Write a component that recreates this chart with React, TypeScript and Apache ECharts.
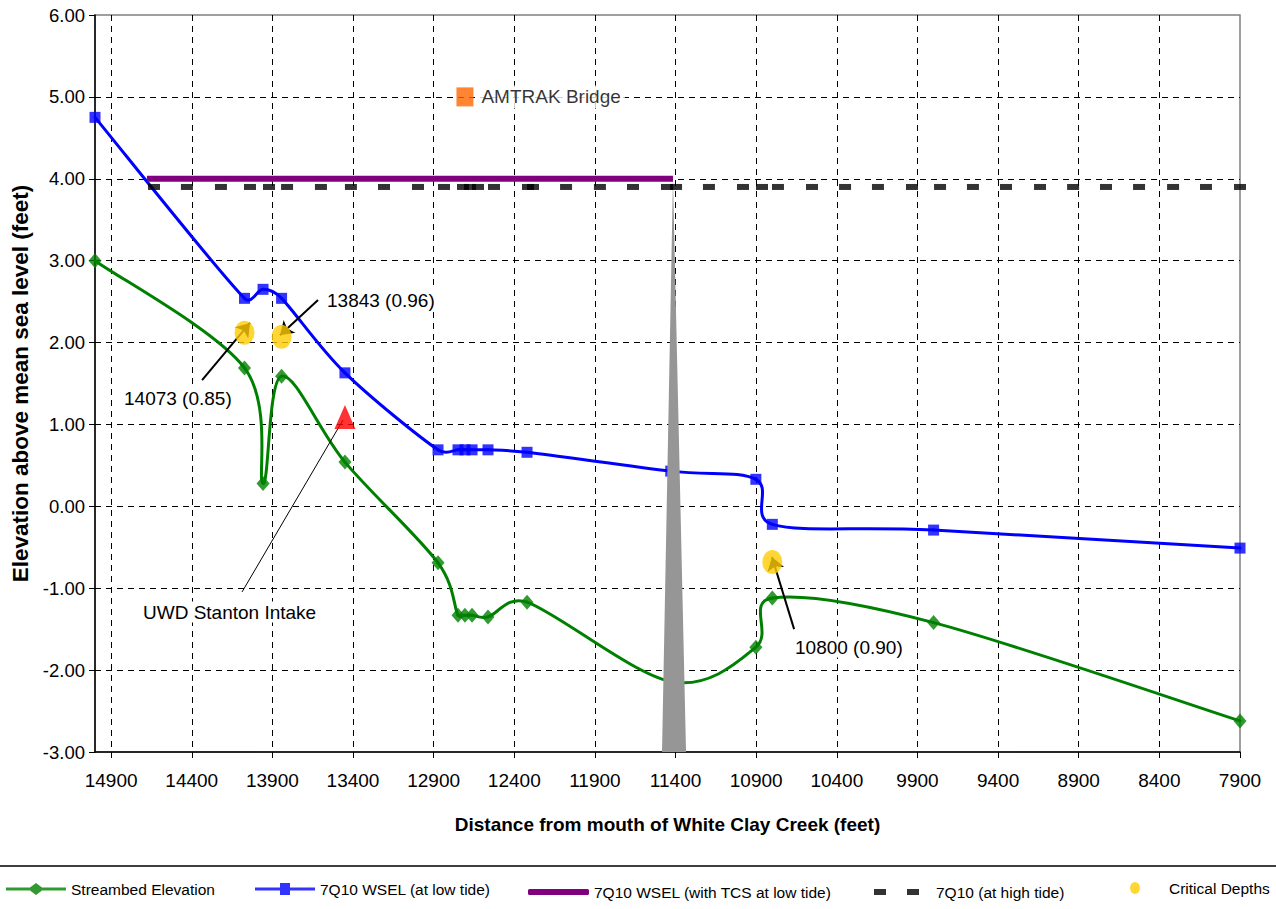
import React, { useEffect, useRef } from "react";
import * as echarts from "echarts";

// ---- data (distance in feet from mouth, elevation in feet) ----
const stationX = [15000, 14073, 13958, 13843, 13450, 12873, 12749, 12706, 12662, 12563, 12321, 11430, 10902, 10800, 9800, 7900];
const streambedY = [3.0, 1.69, 0.28, 1.59, 0.54, -0.69, -1.33, -1.33, -1.33, -1.35, -1.17, -2.14, -1.72, -1.12, -1.42, -2.62];
const wselLowY = [4.75, 2.54, 2.65, 2.54, 1.63, 0.69, 0.69, 0.69, 0.69, 0.69, 0.66, 0.43, 0.33, -0.22, -0.29, -0.51];

const tcsX = [14678, 11416];
const tcsY = [4.0, 4.0];

const highTideX = [14634, 14430, 14219, 14039, 13921, 13809, 13599, 13413, 13208, 12997, 12836, 12718, 12675, 12625, 12526, 12315, 12284, 12079, 11869, 11664, 11453, 11397, 11193, 10982, 10864, 10765, 10554, 10349, 10145, 9934, 9760, 9556, 9351, 9140, 8935, 8731, 8526, 8315, 8111, 7900];
const highTideLevel = 3.9;

const criticalX = [14073, 13843, 10800];
const criticalY = [2.12, 2.07, -0.68];
const criticalLabels = ["14073 (0.85)", "13843 (0.96)", "10800 (0.90)"];

const bridgeX = 12706;
const bridgeY = 5.0;
const intakeX = 13450;
const intakeY = 1.09;

// gray wedge (apex + base corners)
const wedgeX = [11416, 11484, 11335];
const wedgeY = [4.0, -3.0, -3.0];

const yMin = -3;
const yMax = 6;
const xMin = 7900;
const xMax = 15000;
const xStep = 500;

const FONT = '"Liberation Sans", Arial, sans-serif';

const S_BED = "Streambed Elevation";
const S_LOW = "7Q10 WSEL (at low tide)";
const S_TCS = "7Q10 WSEL (with TCS at low tide)";
const S_HIGH = "7Q10 (at high tide)";
const S_CRIT = "Critical Depths";

const ellipsePath = "path://M0,12A10,12 0 1,0 20,12A10,12 0 1,0 0,12Z";

// Excel-like smoothed line (Catmull-Rom -> cubic Bezier, control arms capped), via api.coord
function smoothLine(xs: number[], ys: number[], color: string, z: number) {
  const cap = (vx: number, vy: number, maxLen: number) => {
    const len = Math.hypot(vx, vy);
    if (len <= maxLen || len === 0) return [vx, vy];
    const k = maxLen / len;
    return [vx * k, vy * k];
  };
  return {
    type: "custom",
    silent: true,
    z,
    data: [[xs[0], ys[0]]],
    renderItem: (_params: any, api: any) => {
      const pts = xs.map((x, i) => api.coord([x, ys[i]]));
      const children: any[] = [];
      for (let i = 0; i < pts.length - 1; i++) {
        const p0 = pts[i - 1] || pts[i];
        const p1 = pts[i];
        const p2 = pts[i + 1];
        const p3 = pts[i + 2] || pts[i + 1];
        const seg = Math.hypot(p2[0] - p1[0], p2[1] - p1[1]);
        const a = cap((p2[0] - p0[0]) / 6, (p2[1] - p0[1]) / 6, seg * 0.5);
        const b = cap((p3[0] - p1[0]) / 6, (p3[1] - p1[1]) / 6, seg * 0.5);
        children.push({
          type: "bezierCurve",
          shape: {
            x1: p1[0],
            y1: p1[1],
            x2: p2[0],
            y2: p2[1],
            cpx1: p1[0] + a[0],
            cpy1: p1[1] + a[1],
            cpx2: p2[0] - b[0],
            cpy2: p2[1] - b[1],
          },
          style: { stroke: color, lineWidth: 3, fill: null, lineCap: "round", lineJoin: "round" },
        });
      }
      return { type: "group", children };
    },
  };
}

export default function App() {
  const ref = useRef<HTMLDivElement>(null);
  useEffect(() => {
    if (!ref.current) return;
    const chart = echarts.init(ref.current, null, { renderer: "svg" });
    const zip = (xs: number[], ys: number[]) => xs.map((x, i) => [x, ys[i]]);
    const legendText = { fontSize: 15.5, color: "#000", fontFamily: FONT };
    const annot = (x: number, y: number, text: string) => ({
      type: "text",
      x: x - 2,
      y,
      z: 100,
      style: {
        text,
        font: `19px ${FONT}`,
        fill: "#000",
        textVerticalAlign: "middle",
        backgroundColor: "#fff",
        padding: [1, 2, 1, 2],
      },
    });
    const option: any = {
      animation: false,
      backgroundColor: "#fff",
      textStyle: { fontFamily: FONT },
      grid: {
        left: 95,
        right: 36,
        top: 15,
        bottom: 157,
        show: true,
        borderColor: "#808080",
        borderWidth: 1.5,
        backgroundColor: "#fff",
      },
      xAxis: {
        type: "value",
        inverse: true,
        min: xMin,
        max: xMax,
        interval: xStep,
        name: "Distance from mouth of White Clay Creek (feet)",
        nameLocation: "middle",
        nameGap: 63,
        nameTextStyle: { fontWeight: "bold", fontSize: 19, color: "#000", fontFamily: FONT },
        axisLine: { onZero: false, lineStyle: { color: "#000", width: 1.5 } },
        axisTick: { show: true, length: 6, lineStyle: { color: "#000" } },
        axisLabel: {
          fontSize: 19,
          color: "#000",
          margin: 19,
          showMaxLabel: false,
          fontFamily: FONT,
          formatter: (v: number) => String(v),
        },
        splitLine: {
          show: true,
          showMinLine: false,
          showMaxLine: false,
          lineStyle: { color: "#000", type: [6, 5], width: 1 },
        },
      },
      yAxis: {
        type: "value",
        min: yMin,
        max: yMax,
        interval: 1,
        name: "Elevation above mean sea level (feet)",
        nameLocation: "middle",
        nameGap: 60,
        nameTextStyle: { fontWeight: "bold", fontSize: 22.5, color: "#000", fontFamily: FONT },
        axisLine: { show: true, onZero: false, lineStyle: { color: "#000", width: 1.5 } },
        axisTick: { show: true, length: 6, lineStyle: { color: "#000" } },
        axisLabel: {
          fontSize: 18.5,
          color: "#000",
          margin: 10,
          fontFamily: FONT,
          formatter: (v: number) => v.toFixed(2),
        },
        splitLine: {
          show: true,
          showMinLine: false,
          showMaxLine: false,
          lineStyle: { color: "#000", type: [6, 5], width: 1 },
        },
      },
      legend: [
        {
          data: [{ name: S_BED, icon: "path://M0,4.5H24L30,0L36,4.5H60V7.5H36L30,12L24,7.5H0Z" }],
          left: 6,
          top: 881,
          padding: 0,
          itemWidth: 60,
          itemHeight: 12,
          textStyle: legendText,
        },
        {
          data: [{ name: S_LOW, icon: "path://M0,4.5H25V0H35V4.5H60V7.5H35V12H25V7.5H0Z" }],
          left: 255,
          top: 881,
          padding: 0,
          itemWidth: 60,
          itemHeight: 12,
          textStyle: legendText,
        },
        {
          data: [{ name: S_TCS, icon: "roundRect" }],
          left: 528,
          top: 884,
          padding: 0,
          itemWidth: 61,
          itemHeight: 6,
          textStyle: legendText,
        },
        {
          data: [{ name: S_HIGH, icon: "path://M0,0h12v6h-12zM33,0h12v6h-12z" }],
          left: 874,
          top: 884,
          padding: 0,
          itemWidth: 45,
          itemHeight: 6,
          textStyle: { ...legendText, padding: [0, 0, 0, 12] },
        },
        {
          data: [{ name: S_CRIT, icon: ellipsePath }],
          left: 1130,
          top: 880,
          padding: 0,
          itemWidth: 10,
          itemHeight: 14,
          textStyle: { ...legendText, padding: [0, 0, 0, 24] },
        },
      ],
      graphic: [
        {
          type: "line",
          shape: { x1: 0, y1: 866, x2: 1276, y2: 866 },
          style: { stroke: "#000", lineWidth: 1.5 },
        },
        annot(124, 398, criticalLabels[0]),
        annot(327, 300, criticalLabels[1]),
        annot(795, 647, criticalLabels[2]),
        annot(143, 612, "UWD Stanton Intake"),
      ],
      series: [
        smoothLine(stationX, streambedY, "#008000", 2),
        smoothLine(stationX, wselLowY, "#0000FF", 2),
        {
          name: S_BED,
          type: "scatter",
          data: zip(stationX, streambedY),
          symbol: "diamond",
          symbolSize: [13, 15],
          itemStyle: { color: "#008000" },
          z: 3,
        },
        {
          name: S_LOW,
          type: "scatter",
          data: zip(stationX, wselLowY),
          symbol: "rect",
          symbolSize: 11,
          itemStyle: { color: "#0000FF" },
          z: 3,
        },
        {
          name: S_TCS,
          type: "line",
          data: zip(tcsX, tcsY),
          symbol: "none",
          itemStyle: { color: "#800080" },
          lineStyle: { color: "#800080", width: 6 },
          z: 3,
        },
        {
          name: "wedge",
          type: "custom",
          silent: true,
          data: [[wedgeX[0], wedgeY[0]]],
          z: 4,
          renderItem: (_params: any, api: any) => {
            const pts = wedgeX.map((x, i) => api.coord([x, wedgeY[i]]));
            return { type: "polygon", shape: { points: pts }, style: { fill: "#969696" } };
          },
        },
        {
          name: S_HIGH,
          type: "scatter",
          data: highTideX.map((x) => [x, highTideLevel]),
          symbol: "rect",
          symbolSize: [12, 6],
          itemStyle: { color: "#000" },
          z: 5,
        },
        {
          name: S_CRIT,
          type: "scatter",
          data: zip(criticalX, criticalY),
          symbol: ellipsePath,
          symbolSize: [20, 24],
          itemStyle: { color: "#FFCC00" },
          z: 6,
          markLine: {
            silent: true,
            symbol: ["none", "arrow"],
            symbolSize: 13,
            label: { show: false },
            itemStyle: { color: "#000" },
            lineStyle: { color: "#000", width: 2, type: "solid" },
            data: [
              [{ coord: [14336, 1.54] }, { coord: [14039, 2.24] }],
              [{ coord: [13617, 2.52] }, { coord: [13853, 2.09] }],
              [{ coord: [10665, -1.5] }, { coord: [10802, -0.62] }],
            ],
          },
        },
        {
          name: "AMTRAK Bridge",
          type: "scatter",
          data: [[bridgeX, bridgeY]],
          symbol: "rect",
          symbolSize: [17, 19],
          itemStyle: { color: "#FF6600" },
          label: {
            show: true,
            position: "right",
            distance: 4,
            formatter: "AMTRAK Bridge",
            fontSize: 19,
            color: "#000",
            fontFamily: FONT,
            backgroundColor: "#fff",
            padding: [2, 4, 2, 4],
          },
          z: 6,
        },
        {
          name: "UWD Stanton Intake",
          type: "scatter",
          data: [[intakeX, intakeY]],
          symbol: "triangle",
          symbolSize: [21, 24],
          itemStyle: { color: "#FF0000" },
          z: 6,
          markLine: {
            silent: true,
            symbol: ["none", "none"],
            label: { show: false },
            lineStyle: { color: "#000", width: 1, type: "solid" },
            data: [[{ coord: [13462, 1.055] }, { coord: [14088, -1.045] }]],
          },
        },
      ],
    };
    chart.setOption(option);
    return () => chart.dispose();
  }, []);
  return (
    <div
      ref={ref}
      style={{ position: "absolute", left: 0, top: 0, width: 1276, height: 909 }}
    />
  );
}
